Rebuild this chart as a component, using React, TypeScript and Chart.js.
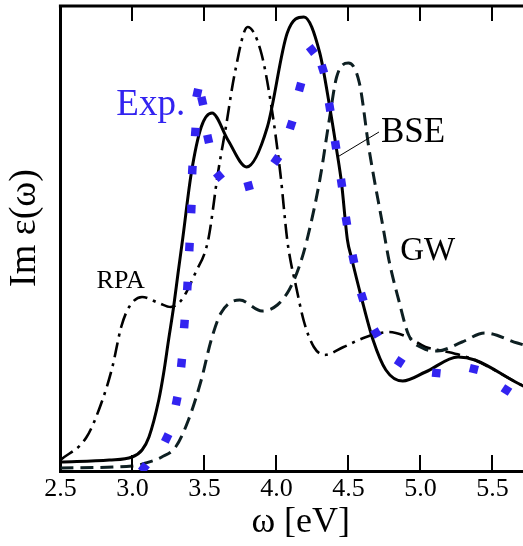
import React, { useEffect, useRef } from 'react';
import { Chart, registerables } from 'chart.js';

Chart.register(...registerables);

const SERIF = '"Liberation Serif", "Times New Roman", "DejaVu Serif", serif';
const BLUE = 'rgb(50, 35, 240)';
const GW_COLOR = '#0d1f22';

// x axis: photon energy [eV]; y: Im eps (arbitrary units)
const X_MIN = 2.5;
const X_MAX = 5.837;
const Y_MIN = 0;
const Y_MAX = 465;
const X_STEP = 0.5;
const X_TITLE = 'ω [eV]';
const Y_TITLE = 'Im ε(ω)';

const bseX = [2.5, 2.84, 2.998, 3.067, 3.115, 3.183, 3.217, 3.251, 3.286, 3.317, 3.348, 3.409, 3.478, 3.553, 3.663, 3.793, 3.937, 4.075, 4.191, 4.301, 4.37, 4.418, 4.452, 4.493, 4.52, 4.589, 4.671, 4.76, 4.877, 5.035, 5.261, 5.378, 5.673, 5.84];
const bseY = [9, 11, 14, 21, 34, 71, 98, 131, 164, 198, 231, 298, 344, 358, 331, 304, 344, 438, 454, 418, 364, 321, 288, 231, 214, 174, 131, 101, 90, 99, 114, 111, 88, 76];

const gwX = [2.5, 3.0, 3.093, 3.204, 3.3, 3.389, 3.478, 3.547, 3.615, 3.745, 3.9, 4.006, 4.088, 4.157, 4.212, 4.301, 4.37, 4.418, 4.5, 4.576, 4.644, 4.74, 4.781, 4.849, 4.918, 5.014, 5.117, 5.289, 5.446, 5.673, 5.84];
const gwY = [3, 5, 8, 14, 24, 51, 91, 131, 158, 171, 160, 166, 181, 204, 231, 291, 354, 394, 408, 388, 321, 244, 211, 171, 136, 123, 120, 129, 138, 128, 121];

const rpaX = [2.5, 2.682, 2.792, 2.861, 2.922, 2.977, 3.067, 3.183, 3.266, 3.341, 3.437, 3.526, 3.594, 3.649, 3.711, 3.8, 3.889, 3.958, 4.027, 4.075, 4.097, 4.131, 4.192, 4.26, 4.335, 4.466, 4.623, 4.781, 4.911, 5.035, 5.159, 5.275, 5.378, 5.673, 5.84];
const rpaY = [11, 34, 71, 104, 144, 164, 174, 168, 164, 171, 198, 231, 298, 344, 398, 444, 421, 371, 298, 231, 211, 188, 149, 124, 116, 124, 134, 139, 134, 124, 120, 116, 111, 88, 76];

const expX = [3.08, 3.238, 3.307, 3.341, 3.361, 3.382, 3.396, 3.409, 3.416, 3.437, 3.451, 3.485, 3.526, 3.601, 3.807, 3.999, 4.102, 4.164, 4.246, 4.322, 4.37, 4.411, 4.452, 4.486, 4.534, 4.596, 4.692, 4.856, 5.11, 5.371, 5.597];
const expY = [3, 33, 70, 108, 147, 185, 224, 262, 301, 339, 378, 370, 332, 295, 285, 311, 346, 384, 421, 402, 364, 326, 288, 250, 212, 174, 138, 109, 98, 102, 81];

const labelTexts = ['Exp.', 'BSE', 'GW', 'RPA'];
const labelX = [2.888, 4.726, 4.86, 2.751];
const labelY = [356, 329, 211, 183];
const labelSize = [37, 35, 33, 26];
const labelColor = [BLUE, '#000', '#000', '#000'];
const bseLeaderX = [4.712, 4.424];
const bseLeaderY = [339, 314];

const toPoints = (xs: number[], ys: number[]) => xs.map((x, i) => ({ x, y: ys[i] }));

const decorPlugin = {
  id: 'decor',
  afterDraw(chart: any) {
    const { ctx, chartArea: a } = chart;
    const xs = chart.scales.x;
    const ys = chart.scales.y;
    ctx.save();
    ctx.strokeStyle = '#000';
    ctx.lineWidth = 3;
    ctx.beginPath();
    ctx.moveTo(a.left - 1.5, a.top);
    ctx.lineTo(a.right + 2, a.top);
    ctx.stroke();
    ctx.lineWidth = 2;
    xs.ticks.forEach((t: any) => {
      if (t.value <= X_MIN + 1e-6) return;
      const px = Math.round(xs.getPixelForValue(t.value));
      ctx.beginPath();
      ctx.moveTo(px, a.bottom);
      ctx.lineTo(px, a.bottom - 16);
      ctx.moveTo(px, a.top);
      ctx.lineTo(px, a.top + 15);
      ctx.stroke();
    });
    // leader line for BSE
    ctx.lineWidth = 1;
    ctx.beginPath();
    ctx.moveTo(xs.getPixelForValue(bseLeaderX[0]), ys.getPixelForValue(bseLeaderY[0]));
    ctx.lineTo(xs.getPixelForValue(bseLeaderX[1]), ys.getPixelForValue(bseLeaderY[1]));
    ctx.stroke();
    ctx.textAlign = 'left';
    ctx.textBaseline = 'alphabetic';
    labelTexts.forEach((txt, i) => {
      ctx.fillStyle = labelColor[i];
      ctx.font = `${labelSize[i]}px ${SERIF}`;
      ctx.fillText(txt, xs.getPixelForValue(labelX[i]), ys.getPixelForValue(labelY[i]));
    });
    // y axis title
    ctx.save();
    ctx.translate(a.left - 35.5, (a.top + a.bottom) / 2 - 10.5);
    ctx.rotate(-Math.PI / 2);
    ctx.textAlign = 'center';
    ctx.textBaseline = 'middle';
    ctx.fillStyle = '#000';
    ctx.font = `38px ${SERIF}`;
    ctx.fillText(Y_TITLE, 0, 0);
    ctx.restore();
    ctx.restore();
  },
};

export default function App() {
  const ref = useRef<HTMLCanvasElement>(null);
  useEffect(() => {
    document.body.style.margin = '0';
    const canvas = ref.current;
    if (!canvas) return;
    let alive = true;
    const chart = new Chart(canvas, {
      type: 'line',
      data: {
        datasets: [
          {
            label: 'Exp.',
            data: toPoints(expX, expY),
            showLine: false,
            pointStyle: 'rect',
            pointRadius: 6,
            pointBorderWidth: 0,
            pointBackgroundColor: BLUE,
            pointBorderColor: BLUE,
            pointRotation: (c: any) => {
              const i = c.dataIndex;
              const ch = c.chart;
              const sx = ch.scales.x;
              const sy = ch.scales.y;
              if (!sx || !sy) return 0;
              const i0 = Math.max(0, i - 1);
              const i1 = Math.min(expX.length - 1, i + 1);
              const dx = sx.getPixelForValue(expX[i1]) - sx.getPixelForValue(expX[i0]);
              const dy = sy.getPixelForValue(expY[i1]) - sy.getPixelForValue(expY[i0]);
              return (Math.atan2(dy, dx) * 180) / Math.PI;
            },
          } as any,
          {
            label: 'BSE',
            data: toPoints(bseX, bseY),
            borderColor: '#000',
            borderWidth: 3,
            pointRadius: 0,
            cubicInterpolationMode: 'monotone',
            fill: false,
          },
          {
            label: 'GW',
            data: toPoints(gwX, gwY),
            borderColor: GW_COLOR,
            borderWidth: 3,
            borderDash: [13, 7],
            pointRadius: 0,
            cubicInterpolationMode: 'monotone',
            fill: false,
          },
          {
            label: 'RPA',
            data: toPoints(rpaX, rpaY),
            borderColor: '#000',
            borderWidth: 2.6,
            borderDash: [15, 6, 3, 6],
            pointRadius: 0,
            cubicInterpolationMode: 'monotone',
            fill: false,
          },
        ],
      },
      options: {
        responsive: false,
        animation: false,
        devicePixelRatio: 1,
        layout: { padding: { top: 6, left: 0, right: 0, bottom: 0 } },
        plugins: { legend: { display: false }, tooltip: { enabled: false } },
        scales: {
          x: {
            type: 'linear',
            position: 'bottom',
            min: X_MIN,
            max: X_MAX,
            ticks: {
              stepSize: X_STEP,
              includeBounds: false,
              autoSkip: false,
              maxRotation: 0,
              padding: 3,
              color: '#000',
              font: { family: SERIF, size: 26 },
              callback: (v: any) => Number(v).toFixed(1),
            },
            grid: { display: true, drawOnChartArea: false, drawTicks: false },
            border: { display: true, width: 3, color: '#000' },
            title: {
              display: true,
              text: X_TITLE,
              color: '#000',
              font: { family: SERIF, size: 36 },
              padding: { top: 0, bottom: 2 },
            },
            afterFit: (s: any) => {
              s.height = 75;
            },
          },
          y: {
            type: 'linear',
            min: Y_MIN,
            max: Y_MAX,
            ticks: { display: false },
            grid: { display: true, drawOnChartArea: false, drawTicks: false },
            border: { display: true, width: 3, color: '#000' },
            title: { display: false, text: Y_TITLE },
            afterFit: (s: any) => {
              s.width = 60.4;
            },
          },
        },
      } as any,
      plugins: [decorPlugin],
    });
    const fonts = (document as any).fonts;
    if (fonts && fonts.load) {
      Promise.all([
        fonts.load('26px "Liberation Serif"'),
        fonts.load('36px "Liberation Serif"'),
      ])
        .catch(() => null)
        .then(() => {
          if (alive) chart.update();
        });
    }
    return () => {
      alive = false;
      chart.destroy();
    };
  }, []);
  return (
    <div style={{ width: 523, height: 546, overflow: 'hidden', position: 'relative' }}>
      <canvas ref={ref} width={547} height={546} style={{ display: 'block' }} />
    </div>
  );
}
